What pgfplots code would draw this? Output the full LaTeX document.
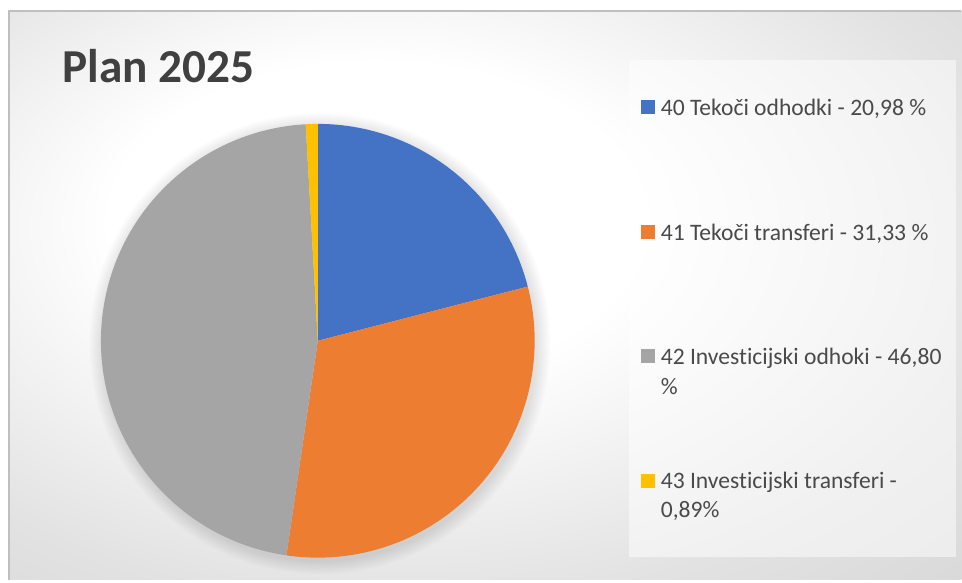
\documentclass[border=0pt]{standalone}
\usepackage{pgfplots}
\pgfplotsset{compat=1.18}
\usepackage{fontspec}
\setmainfont{Carlito}[Ligatures=NoCommon]

\definecolor{pieblue}{HTML}{4472C4}
\definecolor{pieorange}{HTML}{ED7D31}
\definecolor{piegray}{HTML}{A5A5A5}
\definecolor{pieyellow}{HTML}{FFC000}
\definecolor{titletext}{HTML}{404040}
\definecolor{legtext}{HTML}{4A4A4A}
\definecolor{bgmid}{HTML}{E2E2E2}
\definecolor{bgedge}{HTML}{CFCFCF}
\definecolor{bgcorner}{HTML}{C4C4C4}
\definecolor{frame}{HTML}{BFBFBF}

\pgfdeclareradialshading{chartbg}{\pgfpoint{-7bp}{8bp}}{%
  color(0bp)=(white); color(14bp)=(white); color(32bp)=(bgmid);
  color(50bp)=(bgedge); color(75bp)=(bgcorner)}

% shares in percent, clockwise from 12 o'clock
\def\shA{20.98}\def\shB{31.33}\def\shC{46.80}\def\shD{0.89}
\pgfmathsetmacro\aA{90}
\pgfmathsetmacro\aB{\aA-3.6*\shA}
\pgfmathsetmacro\aC{\aB-3.6*\shB}
\pgfmathsetmacro\aD{\aC-3.6*\shC}
\pgfmathsetmacro\aE{\aD-3.6*\shD}

\begin{document}
\begin{tikzpicture}
\begin{axis}[
    x=1pt, y=1pt,
    xmin=0, xmax=962, ymin=0, ymax=583,
    hide axis, clip=false,
]
\addplot[draw=none] coordinates {(0,0) (962,583)};
% page and chart area
\fill[white] (axis cs:0,0) rectangle (axis cs:962,583);
\shade[shading=chartbg] (axis cs:9,3) rectangle (axis cs:962,572);
\draw[frame, line width=1.2pt] (axis cs:9,3) -- (axis cs:9,572) -- (axis cs:962,572);
% soft shadow round the pie
\pgfplotsinvokeforeach{1,...,14}{
  \fill[black, opacity=0.009] (axis cs:320,239) circle[radius={217pt+#1pt}];
}
% pie wedges
\fill[pieblue]   (axis cs:318,242) -- ++(\aA:217pt) arc[start angle=\aA, end angle=\aB, radius=217pt] -- cycle;
\fill[pieorange] (axis cs:318,242) -- ++(\aB:217pt) arc[start angle=\aB, end angle=\aC, radius=217pt] -- cycle;
\fill[piegray]   (axis cs:318,242) -- ++(\aC:217pt) arc[start angle=\aC, end angle=\aD, radius=217pt] -- cycle;
\fill[pieyellow] (axis cs:318,242) -- ++(\aD:217pt) arc[start angle=\aD, end angle=\aE, radius=217pt] -- cycle;
% title
\node[anchor=base west, inner sep=0, text=titletext,
      font=\fontsize{47.3}{50}\selectfont\bfseries] at (axis cs:62.5,500) {Plan 2025};
% legend
\fill[white, fill opacity=0.5] (axis cs:629,523) rectangle (axis cs:957,26);
\fill[pieblue]   (axis cs:641,483) rectangle (axis cs:655,469);
\fill[pieorange] (axis cs:641,358) rectangle (axis cs:655,344);
\fill[piegray]   (axis cs:641,234) rectangle (axis cs:655,220);
\fill[pieyellow] (axis cs:641,109) rectangle (axis cs:655,95);
\begin{scope}[every node/.style={anchor=base west, inner sep=0, text=legtext,
      font=\fontsize{23.6}{30}\selectfont}]
\node at (axis cs:661,467.5) {40 Tekoči odhodki - 20,98 \%};
\node at (axis cs:661,342.5) {41 Tekoči transferi - 31,33 \%};
\node at (axis cs:661,218.5) {42 Investicijski odhoki - 46,80};
\node at (axis cs:661,188.5) {\%};
\node at (axis cs:661,94.5) {43 Investicijski transferi -};
\node at (axis cs:661,65.5) {0,89\%};
\end{scope}
\end{axis}
\end{tikzpicture}
\end{document}
